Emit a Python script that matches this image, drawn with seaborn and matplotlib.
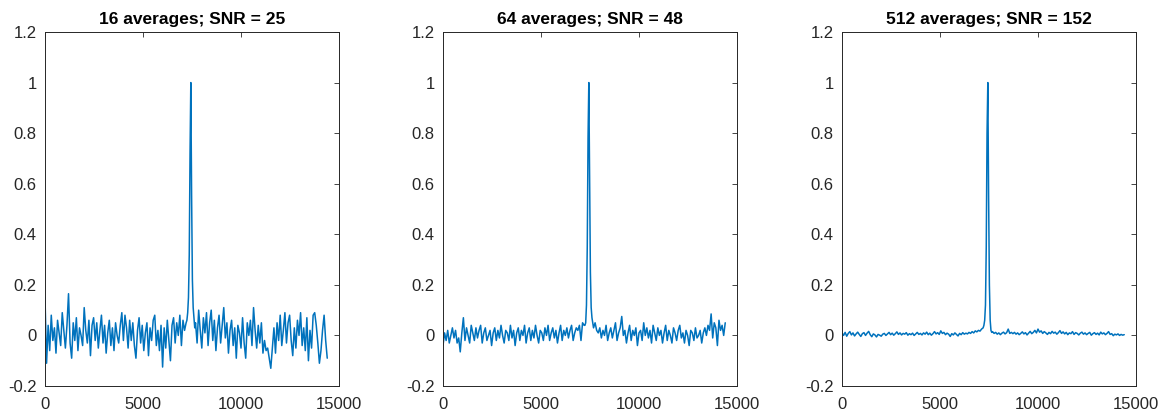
import numpy as np
import pandas as pd
import seaborn as sns
import matplotlib
matplotlib.use("Agg")
import matplotlib.pyplot as plt
from matplotlib.ticker import FuncFormatter

titles = ["16 averages; SNR = 25", "64 averages; SNR = 48", "512 averages; SNR = 152"]
x_ticks = [0, 5000, 10000, 15000]
y_ticks = [-0.2, 0, 0.2, 0.4, 0.6, 0.8, 1, 1.2]

# sample spacing of the traces
step_noise = 80
step_peak = 40
left_start = 0
peak_start = 7240
right_start = 7680

# ---- 16 averages ----
left16 = [0.15, -0.11, 0.04, -0.06, 0.08, -0.02, 0.03, -0.07, 0.06, 0.01,
          -0.04, 0.09, 0.02, -0.05, 0.04, 0.165, -0.03, -0.09, 0.05, -0.02,
          0.07, -0.06, 0.03, 0.00, -0.04, 0.11, 0.02, -0.03, 0.06, -0.08,
          0.04, 0.07, -0.02, 0.05, -0.05, 0.02, 0.08, -0.03, 0.04, -0.07,
          0.01, 0.06, -0.04, 0.03, -0.06, 0.05, 0.00, -0.03, 0.04, 0.09,
          -0.02, 0.08, 0.03, -0.05, 0.06, -0.02, 0.05, -0.04, -0.09, 0.02,
          0.07, -0.03, 0.04, -0.06, 0.01, 0.05, -0.08, 0.03, -0.02, 0.06,
          0.08, -0.04, 0.02, -0.06, 0.04, -0.125, 0.03, -0.05, 0.06, -0.02,
          -0.10, 0.04, 0.07, -0.03, 0.05, 0.00, 0.08, -0.04, 0.06, 0.02, 0.05]
peak16 = [0.06, 0.09, 0.15, 0.32, 0.72, 1.0, 0.55, 0.22, 0.11, 0.07, 0.03]
right16 = [0.05, -0.03, 0.10, 0.02, -0.05, 0.07, 0.01, 0.09, -0.04, 0.05,
           0.10, -0.02, 0.06, -0.06, 0.03, 0.08, -0.03, 0.04, 0.11, -0.01,
           0.05, -0.07, 0.02, 0.06, -0.04, 0.03, -0.09, 0.04, 0.01, -0.05,
           0.07, -0.03, -0.09, 0.05, 0.00, 0.06, -0.04, 0.11, 0.02, -0.05,
           0.04, -0.03, 0.05, -0.07, -0.02, -0.06, -0.05, -0.09, -0.13, -0.05,
           0.03, -0.07, 0.05, -0.02, 0.08, -0.04, 0.02, 0.09, -0.03, 0.05,
           0.08, -0.02, -0.08, 0.03, -0.05, 0.06, 0.00, 0.09, -0.04, 0.03,
           -0.06, 0.07, -0.10, 0.02, -0.05, 0.08, 0.09, 0.04, -0.03, -0.11,
           -0.06, 0.02, 0.08, -0.02, -0.09]

# ---- 64 averages ----
left64 = [-0.04, 0.01, -0.02, 0.02, -0.03, 0.00, 0.03, -0.01, 0.02, -0.03,
          -0.01, -0.065, 0.01, 0.07, -0.02, 0.03, 0.00, -0.03, 0.04, 0.01,
          -0.02, 0.03, -0.01, 0.02, 0.04, -0.03, 0.01, 0.03, -0.02, 0.00,
          0.02, -0.04, 0.01, 0.03, -0.02, 0.02, -0.01, 0.04, 0.00, -0.03,
          0.02, 0.01, -0.02, 0.04, -0.01, 0.02, -0.04, 0.01, 0.03, -0.02,
          0.02, 0.00, 0.04, -0.03, 0.01, 0.03, -0.02, 0.02, -0.01, 0.04,
          0.00, -0.03, 0.02, 0.01, -0.02, 0.03, 0.00, 0.04, -0.02, 0.01,
          0.03, -0.01, 0.02, -0.03, 0.01, 0.04, -0.02, 0.02, 0.00, 0.03,
          -0.01, 0.02, 0.04, -0.02, 0.01, 0.03, 0.02, 0.04, -0.02, 0.05, 0.04]
peak64 = [0.04, 0.05, 0.12, 0.35, 0.78, 1.0, 0.60, 0.25, 0.11, 0.07, 0.05]
right64 = [0.03, 0.05, 0.02, 0.01, 0.03, -0.01, 0.02, 0.00, 0.04, -0.02,
           0.01, 0.03, -0.01, 0.02, 0.05, -0.02, 0.01, 0.03, 0.075, 0.00,
           0.02, -0.03, 0.01, 0.04, -0.02, 0.02, 0.00, 0.03, -0.04, 0.01,
           0.02, -0.02, 0.05, 0.00, 0.03, -0.01, 0.02, -0.03, 0.04, 0.01,
           -0.02, 0.03, 0.00, 0.02, -0.03, 0.01, 0.04, -0.02, 0.02, 0.00,
           -0.03, 0.03, 0.01, -0.02, 0.02, 0.04, -0.01, 0.01, -0.03, 0.02,
           0.00, -0.04, 0.02, 0.01, -0.02, 0.03, -0.01, 0.00, 0.02, -0.03,
           0.01, 0.03, 0.00, 0.04, 0.02, 0.085, -0.01, 0.05, 0.03, -0.04,
           0.06, 0.02, 0.04, 0.00, 0.05]

# ---- 512 averages ----
left512 = [0.010, 0.000, 0.012, -0.003, 0.008, 0.015, 0.002, 0.010, -0.002, 0.006,
           0.013, 0.004, -0.004, 0.007, 0.011, 0.000, 0.009, 0.016, 0.003, -0.005,
           0.006, 0.002, -0.006, 0.004, 0.001, -0.003, 0.005, 0.008, 0.000, 0.006,
           0.012, 0.003, 0.009, 0.001, 0.007, 0.014, 0.004, 0.010, 0.002, 0.008,
           0.005, 0.011, 0.001, 0.007, 0.003, 0.009, 0.000, 0.006, 0.012, 0.004,
           0.008, 0.002, 0.010, 0.005, 0.013, 0.003, 0.009, 0.001, 0.007, 0.015,
           0.006, 0.011, 0.004, 0.018, 0.008, 0.012, 0.003, 0.009, 0.005, -0.004,
           0.007, 0.002, 0.010, 0.004, -0.002, 0.008, 0.003, 0.011, 0.005, 0.009,
           0.006, 0.012, 0.008, 0.015, 0.010, 0.018, 0.014, 0.020, 0.017, 0.025, 0.030]
peak512 = [0.04, 0.06, 0.12, 0.35, 0.80, 1.0, 0.55, 0.20, 0.06, 0.02, 0.012]
right512 = [0.015, 0.008, 0.012, 0.005, 0.010, 0.003, 0.009, 0.013, 0.006, 0.011,
            0.025, 0.008, 0.012, 0.007, 0.012, 0.005, 0.010, 0.003, 0.008, 0.014,
            0.006, 0.011, 0.002, 0.009, 0.016, 0.007, 0.012, 0.020, 0.010, 0.025,
            0.013, 0.018, 0.008, 0.015, 0.010, 0.004, 0.012, 0.007, 0.016, 0.009,
            0.013, 0.005, 0.011, 0.019, 0.008, 0.014, 0.006, 0.012, 0.003, 0.010,
            0.007, 0.015, 0.004, 0.011, 0.008, 0.002, 0.009, 0.013, 0.005, 0.010,
            0.003, 0.008, 0.012, 0.001, 0.007, 0.011, 0.004, 0.009, 0.002, 0.013,
            0.006, 0.010, 0.003, 0.008, 0.015, 0.004, 0.007, -0.001, 0.005, 0.002,
            0.006, 0.000, 0.004, 0.001, 0.003]

series = [(left16, peak16, right16), (left64, peak64, right64), (left512, peak512, right512)]


def build(left, peak, right):
    xs = np.concatenate([left_start + step_noise * np.arange(len(left)),
                         peak_start + step_peak * np.arange(len(peak)),
                         right_start + step_noise * np.arange(len(right))])
    ys = np.concatenate([left, peak, right])
    return pd.DataFrame({"x": xs, "y": ys})


sns.set_style("white")
plt.rcParams["font.family"] = ["Liberation Sans", "DejaVu Sans"]

matlab_blue = "#0072BD"
axis_col = "#262626"

fig = plt.figure(figsize=(11.67, 4.15), dpi=100)
lefts = [45 / 1167, 443 / 1167, 842 / 1167]
w = 294 / 1167
b = 29 / 415
h = 354 / 415

for i, (left, peak, right) in enumerate(series):
    ax = fig.add_axes([lefts[i], b, w, h])
    df = build(left, peak, right)
    sns.lineplot(data=df, x="x", y="y", ax=ax, color=matlab_blue, lw=1.1,
                 estimator=None, sort=False)
    ax.set_xlim(0, 15000)
    ax.set_ylim(-0.2, 1.2)
    ax.set_xticks(x_ticks)
    ax.set_yticks(y_ticks)
    ax.xaxis.set_major_formatter(FuncFormatter(lambda v, p: f"{v:g}"))
    ax.yaxis.set_major_formatter(FuncFormatter(lambda v, p: f"{v:g}"))
    ax.set_xlabel("")
    ax.set_ylabel("")
    ax.tick_params(direction="in", length=3.5, width=0.6, colors=axis_col,
                   labelsize=12, top=True, right=True)
    ax.tick_params(axis="x", pad=8)
    ax.tick_params(axis="y", pad=6)
    for s in ax.spines.values():
        s.set_color(axis_col)
        s.set_linewidth(0.7)
    ax.set_title(titles[i], fontsize=12.5, fontweight="bold", color="black", pad=6)

fig.savefig("out.png", dpi=100)
